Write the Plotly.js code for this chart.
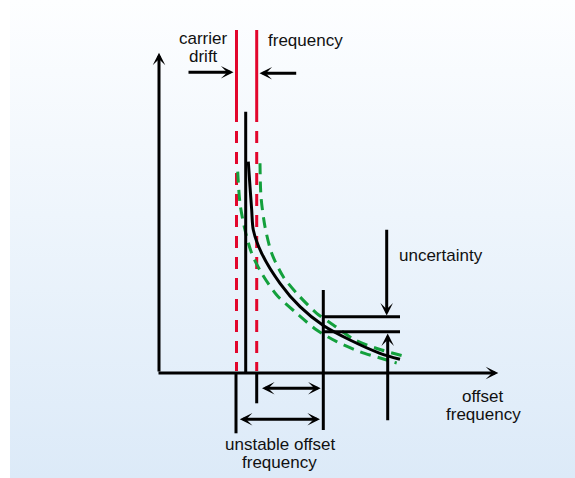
<!DOCTYPE html>
<html>
<head>
<meta charset="utf-8">
<script src="https://cdn.plot.ly/plotly-3.0.1.min.js"></script>
<style>
  html, body { margin: 0; padding: 0; background: #ffffff; }
  #wrap { position: absolute; left: 0; top: 0; width: 575px; height: 478px; background: #ffffff; }
  #bg { position: absolute; left: 10px; top: 0; width: 565px; height: 478px;
        background: linear-gradient(to bottom, #fdfeff 0%, #eef5fc 45%, #dceaf8 100%); }
  #chart { position: absolute; left: 0; top: 0; width: 575px; height: 478px; }
</style>
</head>
<body>
<div id="wrap"><div id="bg"></div><div id="chart"></div></div>
<script>
// Schematic diagram data (diagram units, y grows downward)
const curveX = [248.3, 250, 251.7, 253.3, 261.7, 280, 300, 323.3, 350, 380, 400];
const curveY = [161.7, 186.7, 210, 230, 253.3, 283.3, 306.7, 325.5, 340, 353.3, 359.3];

const greenInnerX = [237.7, 240, 245, 251.7, 261.7, 276.7, 296.7, 316.7, 336.7, 360, 386.7, 396.7];
const greenInnerY = [171.7, 203.3, 230, 253.3, 273.3, 295, 313.3, 330, 341.7, 351.7, 360, 363];

const greenOuterX = [260, 261, 265, 271.7, 283.3, 296.7, 316.7, 333.3, 355, 381.7, 406.7];
const greenOuterY = [163.3, 196.7, 226.7, 253.3, 276.7, 293.3, 313.3, 325, 340, 350, 356.7];

// red drift limits: solid top part, dashed lower part
const driftX = [236.5, 256.7];
const driftSolidY = [30, 110];
const driftDashY = [110, 371];

// black carrier line
const carrierX = 245.7;
const carrierY = [111.7, 373];

// marker lines (x, y0, y1)
const vLines = [
  [236.0, 372, 433.3],
  [256.7, 373, 403.3],
  [323.3, 290, 430]
];
// uncertainty band lines (y, x0, x1)
const hLines = [
  [316.7, 323.3, 400],
  [331.7, 323.3, 400]
];

// arrows: [x tail, y tail, x head, y head, double]
const arrows = [
  [157, 373, 498.3, 373, false],   // x axis
  [159, 373, 159, 52.7, false],    // y axis
  [187, 72.3, 233.5, 72.3, false], // carrier drift
  [297.7, 73.3, 259.5, 73.3, false], // frequency
  [386.7, 228.3, 386.7, 315.5, false], // uncertainty down
  [387.7, 421.7, 387.7, 333.5, false], // uncertainty up
  [260.5, 388.3, 320.7, 388.3, true],
  [238.3, 419.3, 320.0, 419.3, true]
];

// labels: [text, x center, y center]
const labels = [
  ['carrier', 203, 38.5],
  ['drift', 203, 56.5],
  ['frequency', 305, 40],
  ['uncertainty', 441, 255],
  ['offset', 483, 396],
  ['frequency', 483, 414],
  ['unstable offset', 280.5, 444.5],
  ['frequency', 279.5, 462.5]
];

const RED = '#e2062c';
const GREEN = '#13a03c';
const BLACK = '#000000';

const traces = [];
function seg(x, y, color, dash, width) {
  traces.push({x: x, y: y, mode: 'lines', type: 'scatter', hoverinfo: 'skip',
    line: {color: color, width: width || 3, dash: dash || 'solid'}});
}

// red lines
driftX.forEach(function (dx) {
  seg([dx, dx], driftSolidY, RED);
  seg([dx, dx], driftDashY, RED, '12px,9px');
});
// green dashed bounds
traces.push({x: greenInnerX, y: greenInnerY, mode: 'lines', type: 'scatter', hoverinfo: 'skip',
  line: {color: GREEN, width: 3, dash: '11px,7px', shape: 'spline', smoothing: 0.8}});
traces.push({x: greenOuterX, y: greenOuterY, mode: 'lines', type: 'scatter', hoverinfo: 'skip',
  line: {color: GREEN, width: 3, dash: '11px,7px', shape: 'spline', smoothing: 0.8}});
// carrier line
seg([carrierX, carrierX], carrierY, BLACK);
// curve
traces.push({x: curveX, y: curveY, mode: 'lines', type: 'scatter', hoverinfo: 'skip',
  line: {color: BLACK, width: 3, shape: 'spline', smoothing: 0.8}});
// vertical markers
vLines.forEach(function (v) { seg([v[0], v[0]], [v[1], v[2]], BLACK); });
hLines.forEach(function (h) { seg([h[1], h[2]], [h[0], h[0]], BLACK); });

const annotations = [];
arrows.forEach(function (a) {
  annotations.push({
    x: a[2], y: a[3], ax: a[0], ay: a[1],
    xref: 'x', yref: 'y', axref: 'x', ayref: 'y',
    text: '', showarrow: true,
    arrowcolor: BLACK, arrowwidth: 3,
    arrowhead: 3, arrowsize: 0.7,
    startarrowhead: 3, startarrowsize: 0.7,
    arrowside: a[4] ? 'end+start' : 'end',
    standoff: 0, startstandoff: 0
  });
});
labels.forEach(function (l) {
  annotations.push({
    x: l[1], y: l[2], xref: 'x', yref: 'y', text: l[0], showarrow: false,
    xanchor: 'center', yanchor: 'middle',
    font: {family: 'Liberation Sans, Arial, Helvetica, sans-serif', size: 17, color: '#111111'}
  });
});

const layout = {
  width: 575, height: 478,
  margin: {l: 0, r: 0, t: 0, b: 0},
  paper_bgcolor: 'rgba(0,0,0,0)',
  plot_bgcolor: 'rgba(0,0,0,0)',
  showlegend: false,
  xaxis: {range: [0, 575], visible: false, fixedrange: true},
  yaxis: {range: [478, 0], visible: false, fixedrange: true},
  annotations: annotations
};

Plotly.newPlot('chart', traces, layout, {displayModeBar: false, staticPlot: true});
</script>
</body>
</html>
